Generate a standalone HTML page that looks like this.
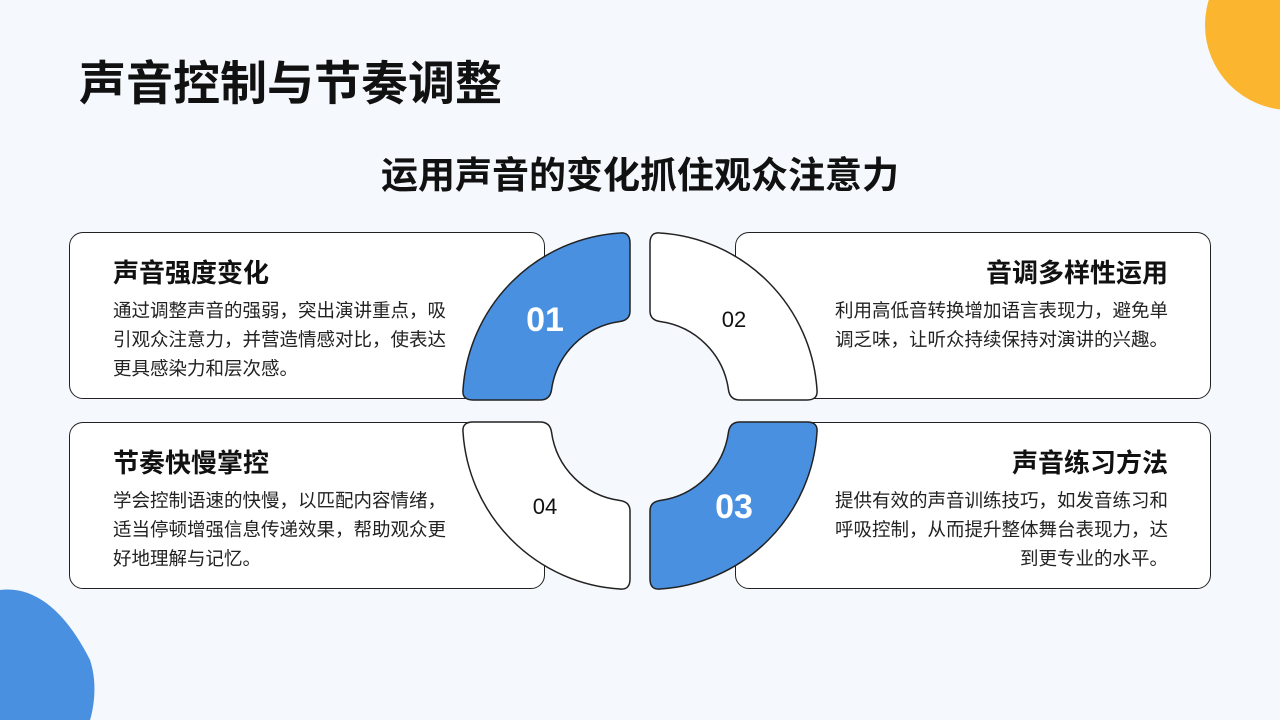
<!DOCTYPE html>
<html><head><meta charset="utf-8"><style>
*{margin:0;padding:0;box-sizing:border-box}
body{width:1280px;height:720px;overflow:hidden;background:#f5f8fd;position:relative;font-family:"Liberation Sans","Noto Sans CJK SC",sans-serif;color:#111}
.t{position:absolute;left:79px;top:45px;font-size:47px;font-weight:bold;white-space:nowrap}
.s{position:absolute;left:0;width:1280px;top:145px;text-align:center;font-size:37px;font-weight:bold}
.c{position:absolute;width:476px;height:167px;background:#fff;border:1.5px solid #222;border-radius:14px}
.c h3{position:absolute;top:20px;font-size:26px;font-weight:bold;white-space:nowrap}
.c p{position:absolute;top:63px;font-size:18.5px;line-height:29px;color:#222;width:337px}
.l h3,.l p{left:43px}
.r h3,.r p{right:42px;text-align:right}
</style></head><body>
<svg width="1280" height="720" style="position:absolute;left:0;top:0">
<circle cx="1290" cy="25" r="85" fill="#fbb52f"/>
<path d="M0 590 C40 585 70 620 90 660 C100 690 90 720 90 720 L0 720 Z" fill="#4a90e0"/>
</svg>
<div class="t">声音控制与节奏调整</div>
<div class="s">运用声音的变化抓住观众注意力</div>
<div class="c l" style="left:69px;top:232px"><h3>声音强度变化</h3><p>通过调整声音的强弱，突出演讲重点，吸引观众注意力，并营造情感对比，使表达更具感染力和层次感。</p></div>
<div class="c r" style="left:735px;top:232px"><h3>音调多样性运用</h3><p>利用高低音转换增加语言表现力，避免单调乏味，让听众持续保持对演讲的兴趣。</p></div>
<div class="c l" style="left:69px;top:422px"><h3>节奏快慢掌控</h3><p>学会控制语速的快慢，以匹配内容情绪，适当停顿增强信息传递效果，帮助观众更好地理解与记忆。</p></div>
<div class="c r" style="left:735px;top:422px"><h3>声音练习方法</h3><p>提供有效的声音训练技巧，如发音练习和呼吸控制，从而提升整体舞台表现力，达到更专业的水平。</p></div>
<svg width="1280" height="720" style="position:absolute;left:0;top:0" font-family="Liberation Sans" text-anchor="middle">
<defs>
<path id="seg" d="M473 400 Q462 400 463 390 A168 168 0 0 1 620 233 Q630 232 630 243 L630 311 Q630 320 620 321.5 A80 80 0 0 0 551.5 390 Q550 400 540 400 Z"/>
</defs>
<g stroke="#222" stroke-width="1.5">
<use href="#seg" fill="#4a90e0"/>
<use href="#seg" fill="#fff" transform="translate(1280,0) scale(-1,1)"/>
<use href="#seg" fill="#4a90e0" transform="rotate(180 640 411)"/>
<use href="#seg" fill="#fff" transform="translate(0,822) scale(1,-1)"/>
</g>
<text x="545" y="331" fill="#fff" font-size="34" font-weight="bold">01</text>
<text x="734" y="327" fill="#111" font-size="22">02</text>
<text x="734" y="518" fill="#fff" font-size="34" font-weight="bold">03</text>
<text x="545" y="514" fill="#111" font-size="22">04</text>
</svg>
</body></html>
